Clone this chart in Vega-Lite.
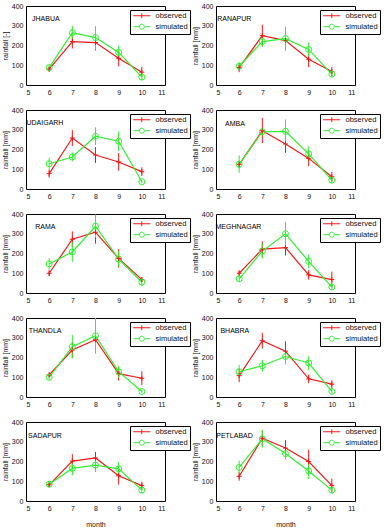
{
  "$schema": "https://vega.github.io/schema/vega-lite/v6.json",
  "background": "white",
  "padding": {"left": 0, "top": 1, "right": 0, "bottom": 0},
  "columns": 2,
  "bounds": "flush",
  "spacing": {"row": 25, "column": 51},
  "resolve": {
    "scale": {"color": "independent", "shape": "independent"},
    "legend": {"color": "independent", "shape": "independent"}
  },
  "data": {
    "values": [
      {"station": "JHABUA", "series": "observed", "month": 6, "rainfall": 80, "low": 68, "high": 92},
      {"station": "JHABUA", "series": "observed", "month": 7, "rainfall": 220, "low": 185, "high": 255},
      {"station": "JHABUA", "series": "observed", "month": 8, "rainfall": 215, "low": 175, "high": 255},
      {"station": "JHABUA", "series": "observed", "month": 9, "rainfall": 135, "low": 95, "high": 175},
      {"station": "JHABUA", "series": "observed", "month": 10, "rainfall": 65, "low": 40, "high": 92},
      {"station": "JHABUA", "series": "simulated", "month": 6, "rainfall": 88, "low": 75, "high": 100},
      {"station": "JHABUA", "series": "simulated", "month": 7, "rainfall": 265, "low": 235, "high": 300},
      {"station": "JHABUA", "series": "simulated", "month": 8, "rainfall": 240, "low": 180, "high": 298},
      {"station": "JHABUA", "series": "simulated", "month": 9, "rainfall": 165, "low": 130, "high": 200},
      {"station": "JHABUA", "series": "simulated", "month": 10, "rainfall": 40, "low": 25, "high": 55},

      {"station": "RANAPUR", "series": "observed", "month": 6, "rainfall": 88, "low": 65, "high": 110},
      {"station": "RANAPUR", "series": "observed", "month": 7, "rainfall": 250, "low": 195, "high": 305},
      {"station": "RANAPUR", "series": "observed", "month": 8, "rainfall": 225, "low": 175, "high": 272},
      {"station": "RANAPUR", "series": "observed", "month": 9, "rainfall": 130, "low": 90, "high": 170},
      {"station": "RANAPUR", "series": "observed", "month": 10, "rainfall": 68, "low": 45, "high": 92},
      {"station": "RANAPUR", "series": "simulated", "month": 6, "rainfall": 95, "low": 75, "high": 115},
      {"station": "RANAPUR", "series": "simulated", "month": 7, "rainfall": 220, "low": 195, "high": 245},
      {"station": "RANAPUR", "series": "simulated", "month": 8, "rainfall": 235, "low": 175, "high": 295},
      {"station": "RANAPUR", "series": "simulated", "month": 9, "rainfall": 180, "low": 145, "high": 215},
      {"station": "RANAPUR", "series": "simulated", "month": 10, "rainfall": 55, "low": 38, "high": 72},

      {"station": "UDAIGARH", "series": "observed", "month": 6, "rainfall": 78, "low": 58, "high": 98},
      {"station": "UDAIGARH", "series": "observed", "month": 7, "rainfall": 258, "low": 218, "high": 298},
      {"station": "UDAIGARH", "series": "observed", "month": 8, "rainfall": 172, "low": 132, "high": 212},
      {"station": "UDAIGARH", "series": "observed", "month": 9, "rainfall": 137, "low": 92, "high": 182},
      {"station": "UDAIGARH", "series": "observed", "month": 10, "rainfall": 88, "low": 66, "high": 110},
      {"station": "UDAIGARH", "series": "simulated", "month": 6, "rainfall": 128, "low": 98, "high": 158},
      {"station": "UDAIGARH", "series": "simulated", "month": 7, "rainfall": 162, "low": 140, "high": 185},
      {"station": "UDAIGARH", "series": "simulated", "month": 8, "rainfall": 267, "low": 222, "high": 312},
      {"station": "UDAIGARH", "series": "simulated", "month": 9, "rainfall": 242, "low": 192, "high": 292},
      {"station": "UDAIGARH", "series": "simulated", "month": 10, "rainfall": 37, "low": 29, "high": 45},

      {"station": "AMBA", "series": "observed", "month": 6, "rainfall": 125, "low": 105, "high": 145},
      {"station": "AMBA", "series": "observed", "month": 7, "rainfall": 295, "low": 232, "high": 360},
      {"station": "AMBA", "series": "observed", "month": 8, "rainfall": 228, "low": 183, "high": 273},
      {"station": "AMBA", "series": "observed", "month": 9, "rainfall": 155, "low": 115, "high": 195},
      {"station": "AMBA", "series": "observed", "month": 10, "rainfall": 62, "low": 38, "high": 86},
      {"station": "AMBA", "series": "simulated", "month": 6, "rainfall": 125, "low": 82, "high": 170},
      {"station": "AMBA", "series": "simulated", "month": 7, "rainfall": 290, "low": 275, "high": 305},
      {"station": "AMBA", "series": "simulated", "month": 8, "rainfall": 292, "low": 232, "high": 352},
      {"station": "AMBA", "series": "simulated", "month": 9, "rainfall": 178, "low": 140, "high": 216},
      {"station": "AMBA", "series": "simulated", "month": 10, "rainfall": 45, "low": 30, "high": 60},

      {"station": "RAMA", "series": "observed", "month": 6, "rainfall": 100, "low": 85, "high": 115},
      {"station": "RAMA", "series": "observed", "month": 7, "rainfall": 272, "low": 232, "high": 312},
      {"station": "RAMA", "series": "observed", "month": 8, "rainfall": 308, "low": 250, "high": 368},
      {"station": "RAMA", "series": "observed", "month": 9, "rainfall": 175, "low": 128, "high": 222},
      {"station": "RAMA", "series": "observed", "month": 10, "rainfall": 68, "low": 56, "high": 80},
      {"station": "RAMA", "series": "simulated", "month": 6, "rainfall": 147, "low": 117, "high": 177},
      {"station": "RAMA", "series": "simulated", "month": 7, "rainfall": 208, "low": 158, "high": 258},
      {"station": "RAMA", "series": "simulated", "month": 8, "rainfall": 338, "low": 280, "high": 398},
      {"station": "RAMA", "series": "simulated", "month": 9, "rainfall": 172, "low": 132, "high": 212},
      {"station": "RAMA", "series": "simulated", "month": 10, "rainfall": 55, "low": 35, "high": 75},

      {"station": "MEGHNAGAR", "series": "observed", "month": 6, "rainfall": 100, "low": 85, "high": 115},
      {"station": "MEGHNAGAR", "series": "observed", "month": 7, "rainfall": 222, "low": 182, "high": 262},
      {"station": "MEGHNAGAR", "series": "observed", "month": 8, "rainfall": 230, "low": 190, "high": 270},
      {"station": "MEGHNAGAR", "series": "observed", "month": 9, "rainfall": 92, "low": 68, "high": 116},
      {"station": "MEGHNAGAR", "series": "observed", "month": 10, "rainfall": 68, "low": 28, "high": 108},
      {"station": "MEGHNAGAR", "series": "simulated", "month": 6, "rainfall": 72, "low": 57, "high": 87},
      {"station": "MEGHNAGAR", "series": "simulated", "month": 7, "rainfall": 212, "low": 175, "high": 250},
      {"station": "MEGHNAGAR", "series": "simulated", "month": 8, "rainfall": 300, "low": 240, "high": 360},
      {"station": "MEGHNAGAR", "series": "simulated", "month": 9, "rainfall": 160, "low": 125, "high": 195},
      {"station": "MEGHNAGAR", "series": "simulated", "month": 10, "rainfall": 30, "low": 15, "high": 45},

      {"station": "THANDLA", "series": "observed", "month": 6, "rainfall": 112, "low": 100, "high": 124},
      {"station": "THANDLA", "series": "observed", "month": 7, "rainfall": 238, "low": 198, "high": 278},
      {"station": "THANDLA", "series": "observed", "month": 8, "rainfall": 290, "low": 225, "high": 355},
      {"station": "THANDLA", "series": "observed", "month": 9, "rainfall": 118, "low": 83, "high": 153},
      {"station": "THANDLA", "series": "observed", "month": 10, "rainfall": 95, "low": 60, "high": 130},
      {"station": "THANDLA", "series": "simulated", "month": 6, "rainfall": 100, "low": 85, "high": 115},
      {"station": "THANDLA", "series": "simulated", "month": 7, "rainfall": 255, "low": 195, "high": 315},
      {"station": "THANDLA", "series": "simulated", "month": 8, "rainfall": 310, "low": 220, "high": 400},
      {"station": "THANDLA", "series": "simulated", "month": 9, "rainfall": 128, "low": 98, "high": 158},
      {"station": "THANDLA", "series": "simulated", "month": 10, "rainfall": 28, "low": 20, "high": 36},

      {"station": "BHABRA", "series": "observed", "month": 6, "rainfall": 108, "low": 75, "high": 142},
      {"station": "BHABRA", "series": "observed", "month": 7, "rainfall": 285, "low": 245, "high": 325},
      {"station": "BHABRA", "series": "observed", "month": 8, "rainfall": 232, "low": 182, "high": 282},
      {"station": "BHABRA", "series": "observed", "month": 9, "rainfall": 92, "low": 70, "high": 114},
      {"station": "BHABRA", "series": "observed", "month": 10, "rainfall": 65, "low": 45, "high": 85},
      {"station": "BHABRA", "series": "simulated", "month": 6, "rainfall": 128, "low": 95, "high": 162},
      {"station": "BHABRA", "series": "simulated", "month": 7, "rainfall": 158, "low": 128, "high": 188},
      {"station": "BHABRA", "series": "simulated", "month": 8, "rainfall": 205, "low": 165, "high": 245},
      {"station": "BHABRA", "series": "simulated", "month": 9, "rainfall": 172, "low": 137, "high": 207},
      {"station": "BHABRA", "series": "simulated", "month": 10, "rainfall": 28, "low": 16, "high": 40},

      {"station": "SADAPUR", "series": "observed", "month": 6, "rainfall": 82, "low": 70, "high": 94},
      {"station": "SADAPUR", "series": "observed", "month": 7, "rainfall": 202, "low": 167, "high": 237},
      {"station": "SADAPUR", "series": "observed", "month": 8, "rainfall": 218, "low": 188, "high": 248},
      {"station": "SADAPUR", "series": "observed", "month": 9, "rainfall": 128, "low": 83, "high": 173},
      {"station": "SADAPUR", "series": "observed", "month": 10, "rainfall": 78, "low": 58, "high": 98},
      {"station": "SADAPUR", "series": "simulated", "month": 6, "rainfall": 85, "low": 70, "high": 100},
      {"station": "SADAPUR", "series": "simulated", "month": 7, "rainfall": 165, "low": 130, "high": 200},
      {"station": "SADAPUR", "series": "simulated", "month": 8, "rainfall": 182, "low": 147, "high": 217},
      {"station": "SADAPUR", "series": "simulated", "month": 9, "rainfall": 163, "low": 128, "high": 198},
      {"station": "SADAPUR", "series": "simulated", "month": 10, "rainfall": 55, "low": 40, "high": 70},

      {"station": "PETLABAD", "series": "observed", "month": 6, "rainfall": 125, "low": 103, "high": 147},
      {"station": "PETLABAD", "series": "observed", "month": 7, "rainfall": 318, "low": 278, "high": 358},
      {"station": "PETLABAD", "series": "observed", "month": 8, "rainfall": 268, "low": 228, "high": 308},
      {"station": "PETLABAD", "series": "observed", "month": 9, "rainfall": 200, "low": 140, "high": 260},
      {"station": "PETLABAD", "series": "observed", "month": 10, "rainfall": 78, "low": 43, "high": 113},
      {"station": "PETLABAD", "series": "simulated", "month": 6, "rainfall": 170, "low": 135, "high": 205},
      {"station": "PETLABAD", "series": "simulated", "month": 7, "rainfall": 315, "low": 270, "high": 360},
      {"station": "PETLABAD", "series": "simulated", "month": 8, "rainfall": 240, "low": 210, "high": 270},
      {"station": "PETLABAD", "series": "simulated", "month": 9, "rainfall": 152, "low": 112, "high": 192},
      {"station": "PETLABAD", "series": "simulated", "month": 10, "rainfall": 55, "low": 40, "high": 70}
    ]
  },
  "concat": [
    {
      "width": 139, "height": 79,
      "transform": [{"filter": "datum.station === 'JHABUA'"}],
      "encoding": {
        "x": {"field": "month", "type": "quantitative", "scale": {"domain": [5, 11]}, "axis": {"values": [5, 6, 7, 8, 9, 10, 11]}, "title": null},
        "y": {"field": "rainfall", "type": "quantitative", "scale": {"domain": [0, 400]}, "axis": {"values": [0, 100, 200, 300, 400]}, "title": "rainfall [-]"}
      },
      "layer": [
        {"mark": {"type": "rule", "strokeWidth": 1}, "encoding": {"y": {"field": "low", "type": "quantitative", "title": "rainfall [-]"}, "y2": {"field": "high"}, "stroke": {"field": "series", "type": "nominal", "legend": null}}},
        {"mark": {"type": "line", "strokeWidth": 1.2}, "encoding": {"stroke": {"field": "series", "type": "nominal", "legend": null}}},
        {"mark": {"type": "point", "filled": false, "strokeWidth": 1, "opacity": 1}, "encoding": {"stroke": {"field": "series", "type": "nominal", "legend": null}, "shape": {"condition": {"test": "datum.series === 'observed'", "value": "M-1,0H1M0,-1V1"}, "value": "circle"}, "size": {"condition": {"test": "datum.series === 'observed'", "value": 25}, "value": 36}}},
        {"mark": {"type": "point", "filled": false, "opacity": 0}, "encoding": {"color": {"field": "series", "type": "nominal", "legend": {"title": null}}, "shape": {"field": "series", "type": "nominal", "legend": {"title": null}}}},
        {"transform": [{"filter": "datum.month === 6 && datum.series === 'observed'"}], "mark": {"type": "text", "align": "left", "baseline": "middle", "fontSize": 7, "color": "black"}, "encoding": {"x": {"datum": 5.26, "type": "quantitative"}, "y": {"datum": 336, "type": "quantitative"}, "text": {"field": "station"}}}
      ]
    },
    {
      "width": 139, "height": 79,
      "transform": [{"filter": "datum.station === 'RANAPUR'"}],
      "encoding": {
        "x": {"field": "month", "type": "quantitative", "scale": {"domain": [5, 11]}, "axis": {"values": [5, 6, 7, 8, 9, 10, 11]}, "title": null},
        "y": {"field": "rainfall", "type": "quantitative", "scale": {"domain": [0, 400]}, "axis": {"values": [0, 100, 200, 300, 400]}, "title": "rainfall [mm]"}
      },
      "layer": [
        {"mark": {"type": "rule", "strokeWidth": 1}, "encoding": {"y": {"field": "low", "type": "quantitative", "title": "rainfall [mm]"}, "y2": {"field": "high"}, "stroke": {"field": "series", "type": "nominal", "legend": null}}},
        {"mark": {"type": "line", "strokeWidth": 1.2}, "encoding": {"stroke": {"field": "series", "type": "nominal", "legend": null}}},
        {"mark": {"type": "point", "filled": false, "strokeWidth": 1, "opacity": 1}, "encoding": {"stroke": {"field": "series", "type": "nominal", "legend": null}, "shape": {"condition": {"test": "datum.series === 'observed'", "value": "M-1,0H1M0,-1V1"}, "value": "circle"}, "size": {"condition": {"test": "datum.series === 'observed'", "value": 25}, "value": 36}}},
        {"mark": {"type": "point", "filled": false, "opacity": 0}, "encoding": {"color": {"field": "series", "type": "nominal", "legend": {"title": null}}, "shape": {"field": "series", "type": "nominal", "legend": {"title": null}}}},
        {"transform": [{"filter": "datum.month === 6 && datum.series === 'observed'"}], "mark": {"type": "text", "align": "left", "baseline": "middle", "fontSize": 7, "color": "black"}, "encoding": {"x": {"datum": 5.05, "type": "quantitative"}, "y": {"datum": 336, "type": "quantitative"}, "text": {"field": "station"}}}
      ]
    },
    {
      "width": 139, "height": 79,
      "transform": [{"filter": "datum.station === 'UDAIGARH'"}],
      "encoding": {
        "x": {"field": "month", "type": "quantitative", "scale": {"domain": [5, 11]}, "axis": {"values": [5, 6, 7, 8, 9, 10, 11]}, "title": null},
        "y": {"field": "rainfall", "type": "quantitative", "scale": {"domain": [0, 400]}, "axis": {"values": [0, 100, 200, 300, 400]}, "title": "rainfall [mm]"}
      },
      "layer": [
        {"mark": {"type": "rule", "strokeWidth": 1}, "encoding": {"y": {"field": "low", "type": "quantitative", "title": "rainfall [mm]"}, "y2": {"field": "high"}, "stroke": {"field": "series", "type": "nominal", "legend": null}}},
        {"mark": {"type": "line", "strokeWidth": 1.2}, "encoding": {"stroke": {"field": "series", "type": "nominal", "legend": null}}},
        {"mark": {"type": "point", "filled": false, "strokeWidth": 1, "opacity": 1}, "encoding": {"stroke": {"field": "series", "type": "nominal", "legend": null}, "shape": {"condition": {"test": "datum.series === 'observed'", "value": "M-1,0H1M0,-1V1"}, "value": "circle"}, "size": {"condition": {"test": "datum.series === 'observed'", "value": 25}, "value": 36}}},
        {"mark": {"type": "point", "filled": false, "opacity": 0}, "encoding": {"color": {"field": "series", "type": "nominal", "legend": {"title": null}}, "shape": {"field": "series", "type": "nominal", "legend": {"title": null}}}},
        {"transform": [{"filter": "datum.month === 6 && datum.series === 'observed'"}], "mark": {"type": "text", "align": "left", "baseline": "middle", "fontSize": 7, "color": "black"}, "encoding": {"x": {"datum": 5.02, "type": "quantitative"}, "y": {"datum": 332, "type": "quantitative"}, "text": {"field": "station"}}}
      ]
    },
    {
      "width": 139, "height": 79,
      "transform": [{"filter": "datum.station === 'AMBA'"}],
      "encoding": {
        "x": {"field": "month", "type": "quantitative", "scale": {"domain": [5, 11]}, "axis": {"values": [5, 6, 7, 8, 9, 10, 11]}, "title": null},
        "y": {"field": "rainfall", "type": "quantitative", "scale": {"domain": [0, 400]}, "axis": {"values": [0, 100, 200, 300, 400]}, "title": "rainfall [mm]"}
      },
      "layer": [
        {"mark": {"type": "rule", "strokeWidth": 1}, "encoding": {"y": {"field": "low", "type": "quantitative", "title": "rainfall [mm]"}, "y2": {"field": "high"}, "stroke": {"field": "series", "type": "nominal", "legend": null}}},
        {"mark": {"type": "line", "strokeWidth": 1.2}, "encoding": {"stroke": {"field": "series", "type": "nominal", "legend": null}}},
        {"mark": {"type": "point", "filled": false, "strokeWidth": 1, "opacity": 1}, "encoding": {"stroke": {"field": "series", "type": "nominal", "legend": null}, "shape": {"condition": {"test": "datum.series === 'observed'", "value": "M-1,0H1M0,-1V1"}, "value": "circle"}, "size": {"condition": {"test": "datum.series === 'observed'", "value": 25}, "value": 36}}},
        {"mark": {"type": "point", "filled": false, "opacity": 0}, "encoding": {"color": {"field": "series", "type": "nominal", "legend": {"title": null}}, "shape": {"field": "series", "type": "nominal", "legend": {"title": null}}}},
        {"transform": [{"filter": "datum.month === 6 && datum.series === 'observed'"}], "mark": {"type": "text", "align": "left", "baseline": "middle", "fontSize": 7, "color": "black"}, "encoding": {"x": {"datum": 5.39, "type": "quantitative"}, "y": {"datum": 329, "type": "quantitative"}, "text": {"field": "station"}}}
      ]
    },
    {
      "width": 139, "height": 79,
      "transform": [{"filter": "datum.station === 'RAMA'"}],
      "encoding": {
        "x": {"field": "month", "type": "quantitative", "scale": {"domain": [5, 11]}, "axis": {"values": [5, 6, 7, 8, 9, 10, 11]}, "title": null},
        "y": {"field": "rainfall", "type": "quantitative", "scale": {"domain": [0, 400]}, "axis": {"values": [0, 100, 200, 300, 400]}, "title": "rainfall [mm]"}
      },
      "layer": [
        {"mark": {"type": "rule", "strokeWidth": 1}, "encoding": {"y": {"field": "low", "type": "quantitative", "title": "rainfall [mm]"}, "y2": {"field": "high"}, "stroke": {"field": "series", "type": "nominal", "legend": null}}},
        {"mark": {"type": "line", "strokeWidth": 1.2}, "encoding": {"stroke": {"field": "series", "type": "nominal", "legend": null}}},
        {"mark": {"type": "point", "filled": false, "strokeWidth": 1, "opacity": 1}, "encoding": {"stroke": {"field": "series", "type": "nominal", "legend": null}, "shape": {"condition": {"test": "datum.series === 'observed'", "value": "M-1,0H1M0,-1V1"}, "value": "circle"}, "size": {"condition": {"test": "datum.series === 'observed'", "value": 25}, "value": 36}}},
        {"mark": {"type": "point", "filled": false, "opacity": 0}, "encoding": {"color": {"field": "series", "type": "nominal", "legend": {"title": null}}, "shape": {"field": "series", "type": "nominal", "legend": {"title": null}}}},
        {"transform": [{"filter": "datum.month === 6 && datum.series === 'observed'"}], "mark": {"type": "text", "align": "left", "baseline": "middle", "fontSize": 7, "color": "black"}, "encoding": {"x": {"datum": 5.4, "type": "quantitative"}, "y": {"datum": 332, "type": "quantitative"}, "text": {"field": "station"}}}
      ]
    },
    {
      "width": 139, "height": 79,
      "transform": [{"filter": "datum.station === 'MEGHNAGAR'"}],
      "encoding": {
        "x": {"field": "month", "type": "quantitative", "scale": {"domain": [5, 11]}, "axis": {"values": [5, 6, 7, 8, 9, 10, 11]}, "title": null},
        "y": {"field": "rainfall", "type": "quantitative", "scale": {"domain": [0, 400]}, "axis": {"values": [0, 100, 200, 300, 400]}, "title": "rainfall [mm]"}
      },
      "layer": [
        {"mark": {"type": "rule", "strokeWidth": 1}, "encoding": {"y": {"field": "low", "type": "quantitative", "title": "rainfall [mm]"}, "y2": {"field": "high"}, "stroke": {"field": "series", "type": "nominal", "legend": null}}},
        {"mark": {"type": "line", "strokeWidth": 1.2}, "encoding": {"stroke": {"field": "series", "type": "nominal", "legend": null}}},
        {"mark": {"type": "point", "filled": false, "strokeWidth": 1, "opacity": 1}, "encoding": {"stroke": {"field": "series", "type": "nominal", "legend": null}, "shape": {"condition": {"test": "datum.series === 'observed'", "value": "M-1,0H1M0,-1V1"}, "value": "circle"}, "size": {"condition": {"test": "datum.series === 'observed'", "value": 25}, "value": 36}}},
        {"mark": {"type": "point", "filled": false, "opacity": 0}, "encoding": {"color": {"field": "series", "type": "nominal", "legend": {"title": null}}, "shape": {"field": "series", "type": "nominal", "legend": {"title": null}}}},
        {"transform": [{"filter": "datum.month === 6 && datum.series === 'observed'"}], "mark": {"type": "text", "align": "left", "baseline": "middle", "fontSize": 7, "color": "black"}, "encoding": {"x": {"datum": 4.98, "type": "quantitative"}, "y": {"datum": 332, "type": "quantitative"}, "text": {"field": "station"}}}
      ]
    },
    {
      "width": 139, "height": 79,
      "transform": [{"filter": "datum.station === 'THANDLA'"}],
      "encoding": {
        "x": {"field": "month", "type": "quantitative", "scale": {"domain": [5, 11]}, "axis": {"values": [5, 6, 7, 8, 9, 10, 11]}, "title": null},
        "y": {"field": "rainfall", "type": "quantitative", "scale": {"domain": [0, 400]}, "axis": {"values": [0, 100, 200, 300, 400]}, "title": "rainfall [mm]"}
      },
      "layer": [
        {"mark": {"type": "rule", "strokeWidth": 1}, "encoding": {"y": {"field": "low", "type": "quantitative", "title": "rainfall [mm]"}, "y2": {"field": "high"}, "stroke": {"field": "series", "type": "nominal", "legend": null}}},
        {"mark": {"type": "line", "strokeWidth": 1.2}, "encoding": {"stroke": {"field": "series", "type": "nominal", "legend": null}}},
        {"mark": {"type": "point", "filled": false, "strokeWidth": 1, "opacity": 1}, "encoding": {"stroke": {"field": "series", "type": "nominal", "legend": null}, "shape": {"condition": {"test": "datum.series === 'observed'", "value": "M-1,0H1M0,-1V1"}, "value": "circle"}, "size": {"condition": {"test": "datum.series === 'observed'", "value": 25}, "value": 36}}},
        {"mark": {"type": "point", "filled": false, "opacity": 0}, "encoding": {"color": {"field": "series", "type": "nominal", "legend": {"title": null}}, "shape": {"field": "series", "type": "nominal", "legend": {"title": null}}}},
        {"transform": [{"filter": "datum.month === 6 && datum.series === 'observed'"}], "mark": {"type": "text", "align": "left", "baseline": "middle", "fontSize": 7, "color": "black"}, "encoding": {"x": {"datum": 5.12, "type": "quantitative"}, "y": {"datum": 332, "type": "quantitative"}, "text": {"field": "station"}}}
      ]
    },
    {
      "width": 139, "height": 79,
      "transform": [{"filter": "datum.station === 'BHABRA'"}],
      "encoding": {
        "x": {"field": "month", "type": "quantitative", "scale": {"domain": [5, 11]}, "axis": {"values": [5, 6, 7, 8, 9, 10, 11]}, "title": null},
        "y": {"field": "rainfall", "type": "quantitative", "scale": {"domain": [0, 400]}, "axis": {"values": [0, 100, 200, 300, 400]}, "title": "rainfall [mm]"}
      },
      "layer": [
        {"mark": {"type": "rule", "strokeWidth": 1}, "encoding": {"y": {"field": "low", "type": "quantitative", "title": "rainfall [mm]"}, "y2": {"field": "high"}, "stroke": {"field": "series", "type": "nominal", "legend": null}}},
        {"mark": {"type": "line", "strokeWidth": 1.2}, "encoding": {"stroke": {"field": "series", "type": "nominal", "legend": null}}},
        {"mark": {"type": "point", "filled": false, "strokeWidth": 1, "opacity": 1}, "encoding": {"stroke": {"field": "series", "type": "nominal", "legend": null}, "shape": {"condition": {"test": "datum.series === 'observed'", "value": "M-1,0H1M0,-1V1"}, "value": "circle"}, "size": {"condition": {"test": "datum.series === 'observed'", "value": 25}, "value": 36}}},
        {"mark": {"type": "point", "filled": false, "opacity": 0}, "encoding": {"color": {"field": "series", "type": "nominal", "legend": {"title": null}}, "shape": {"field": "series", "type": "nominal", "legend": {"title": null}}}},
        {"transform": [{"filter": "datum.month === 6 && datum.series === 'observed'"}], "mark": {"type": "text", "align": "left", "baseline": "middle", "fontSize": 7, "color": "black"}, "encoding": {"x": {"datum": 5.19, "type": "quantitative"}, "y": {"datum": 332, "type": "quantitative"}, "text": {"field": "station"}}}
      ]
    },
    {
      "width": 139, "height": 79,
      "transform": [{"filter": "datum.station === 'SADAPUR'"}],
      "encoding": {
        "x": {"field": "month", "type": "quantitative", "scale": {"domain": [5, 11]}, "axis": {"values": [5, 6, 7, 8, 9, 10, 11]}, "title": "month"},
        "y": {"field": "rainfall", "type": "quantitative", "scale": {"domain": [0, 400]}, "axis": {"values": [0, 100, 200, 300, 400]}, "title": "rainfall [mm]"}
      },
      "layer": [
        {"mark": {"type": "rule", "strokeWidth": 1}, "encoding": {"y": {"field": "low", "type": "quantitative", "title": "rainfall [mm]"}, "y2": {"field": "high"}, "stroke": {"field": "series", "type": "nominal", "legend": null}}},
        {"mark": {"type": "line", "strokeWidth": 1.2}, "encoding": {"stroke": {"field": "series", "type": "nominal", "legend": null}}},
        {"mark": {"type": "point", "filled": false, "strokeWidth": 1, "opacity": 1}, "encoding": {"stroke": {"field": "series", "type": "nominal", "legend": null}, "shape": {"condition": {"test": "datum.series === 'observed'", "value": "M-1,0H1M0,-1V1"}, "value": "circle"}, "size": {"condition": {"test": "datum.series === 'observed'", "value": 25}, "value": 36}}},
        {"mark": {"type": "point", "filled": false, "opacity": 0}, "encoding": {"color": {"field": "series", "type": "nominal", "legend": {"title": null}}, "shape": {"field": "series", "type": "nominal", "legend": {"title": null}}}},
        {"transform": [{"filter": "datum.month === 6 && datum.series === 'observed'"}], "mark": {"type": "text", "align": "left", "baseline": "middle", "fontSize": 7, "color": "black"}, "encoding": {"x": {"datum": 5.09, "type": "quantitative"}, "y": {"datum": 330, "type": "quantitative"}, "text": {"field": "station"}}}
      ]
    },
    {
      "width": 139, "height": 79,
      "transform": [{"filter": "datum.station === 'PETLABAD'"}],
      "encoding": {
        "x": {"field": "month", "type": "quantitative", "scale": {"domain": [5, 11]}, "axis": {"values": [5, 6, 7, 8, 9, 10, 11]}, "title": "month"},
        "y": {"field": "rainfall", "type": "quantitative", "scale": {"domain": [0, 400]}, "axis": {"values": [0, 100, 200, 300, 400]}, "title": "rainfall [mm]"}
      },
      "layer": [
        {"mark": {"type": "rule", "strokeWidth": 1}, "encoding": {"y": {"field": "low", "type": "quantitative", "title": "rainfall [mm]"}, "y2": {"field": "high"}, "stroke": {"field": "series", "type": "nominal", "legend": null}}},
        {"mark": {"type": "line", "strokeWidth": 1.2}, "encoding": {"stroke": {"field": "series", "type": "nominal", "legend": null}}},
        {"mark": {"type": "point", "filled": false, "strokeWidth": 1, "opacity": 1}, "encoding": {"stroke": {"field": "series", "type": "nominal", "legend": null}, "shape": {"condition": {"test": "datum.series === 'observed'", "value": "M-1,0H1M0,-1V1"}, "value": "circle"}, "size": {"condition": {"test": "datum.series === 'observed'", "value": 25}, "value": 36}}},
        {"mark": {"type": "point", "filled": false, "opacity": 0}, "encoding": {"color": {"field": "series", "type": "nominal", "legend": {"title": null}}, "shape": {"field": "series", "type": "nominal", "legend": {"title": null}}}},
        {"transform": [{"filter": "datum.month === 6 && datum.series === 'observed'"}], "mark": {"type": "text", "align": "left", "baseline": "middle", "fontSize": 7, "color": "black"}, "encoding": {"x": {"datum": 5.01, "type": "quantitative"}, "y": {"datum": 330, "type": "quantitative"}, "text": {"field": "station"}}}
      ]
    }
  ],
  "config": {
    "font": "Liberation Sans",
    "view": {"stroke": "black", "strokeWidth": 1},
    "range": {
      "category": ["#f01818", "#30ee30"],
      "symbol": [
        "M-2.85,0H2.85M0,-0.8V0.8",
        "M-2.85,0H-0.83M0.83,0H2.85M0.83,0A0.83,0.83 0 1 1 -0.83,0A0.83,0.83 0 1 1 0.83,0"
      ]
    },
    "axis": {
      "labelFont": "Liberation Sans",
      "titleFont": "Liberation Sans",
      "labelFontSize": 7,
      "titleFontSize": 7,
      "titleFontWeight": "normal",
      "labelColor": "#111111",
      "titleColor": "#111111",
      "grid": false,
      "domain": false,
      "ticks": false,
      "labelPadding": 3
    },
    "axisY": {"titlePadding": 3},
    "axisX": {"titlePadding": 9},
    "legend": {
      "orient": "none",
      "legendX": 104,
      "legendY": 4,
      "strokeColor": "black",
      "fillColor": "white",
      "padding": 2,
      "labelFont": "Liberation Sans",
      "labelFontSize": 7.5,
      "labelColor": "#111111",
      "symbolSize": 36,
      "symbolStrokeWidth": 1,
      "symbolOpacity": 1,
      "symbolOffset": 6,
      "labelOffset": 10,
      "rowPadding": 1
    },
    "text": {"font": "Liberation Sans"}
  }
}
